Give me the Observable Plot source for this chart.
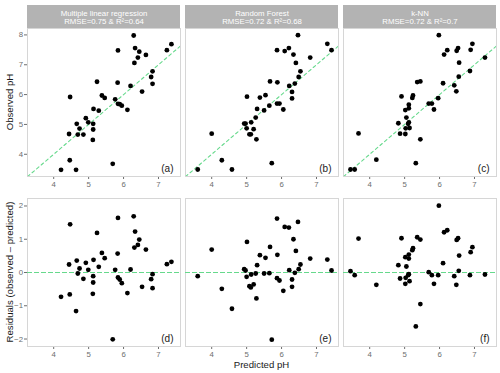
<!DOCTYPE html>
<html><head><meta charset="utf-8">
<script src="https://cdn.jsdelivr.net/npm/d3@7"></script>
<script src="https://cdn.jsdelivr.net/npm/@observablehq/plot@0.6"></script>
<style>
html,body{margin:0;padding:0;background:#fff;}
#chart{position:relative;width:500px;height:373px;overflow:hidden;font-family:"Liberation Sans",Arial,sans-serif;}
#chart > div{position:absolute;left:0;}
.ytitle{position:absolute;font-size:9.6px;color:#1a1a1a;white-space:nowrap;transform:translate(-50%,-50%) rotate(-90deg);}
.xtitle{position:absolute;font-size:9.6px;color:#1a1a1a;white-space:nowrap;transform:translate(-50%,-50%);}
</style></head><body>
<div id="chart">
  <div id="strips" style="top:5px"></div>
  <div id="top" style="top:28px"></div>
  <div id="bottom" style="top:190px"></div>
  <span class="ytitle" style="left:9px;top:102px">Observed pH</span>
  <span class="ytitle" style="left:9px;top:272px">Residuals (observed – predicted)</span>
  <span class="xtitle" style="left:261.5px;top:364px">Predicted pH</span>
</div>
<script>
const models = ["Multiple linear regression", "Random Forest", "k-NN"];
const metrics = ["RMSE=0.75 & R²=0.64", "RMSE=0.72 & R²=0.68", "RMSE=0.72 & R²=0.7"];
const topLabels = ["(a)", "(b)", "(c)"];
const bottomLabels = ["(d)", "(e)", "(f)"];
const xTicks = [4, 5, 6, 7];
const yTopTicks = [4, 5, 6, 7, 8];
const yResidTicks = [-2, -1, 0, 1, 2];

const mlrPredicted = [6.29,7.37,5.84,6.33,6.45,7.24,6.64,6.41,6.31,6.83,6.79,6.83,6.53,6.20,5.24,5.83,4.47,5.38,5.46,5.76,5.84,5.89,5.95,6.11,5.14,5.29,4.92,4.99,5.13,4.66,4.74,5.13,4.44,4.69,4.85,5.12,4.46,4.21,4.64,5.69];
const mlrObserved  = [7.98,7.69,7.48,7.56,7.44,7.49,7.33,7.24,7.06,6.78,6.59,6.36,6.10,6.29,6.43,6.40,5.92,5.97,5.89,5.84,5.69,5.68,5.63,5.49,5.52,5.46,5.21,5.07,5.02,5.02,4.86,4.83,4.68,4.66,4.66,4.48,3.80,3.48,3.48,3.68];

const rfPredicted = [6.47,7.31,7.43,5.87,6.09,6.21,6.34,6.82,6.41,6.54,6.49,5.67,5.88,6.38,6.22,6.30,6.30,5.01,5.54,5.38,5.87,5.94,5.65,6.05,5.30,5.50,5.26,5.13,4.93,4.97,5.00,5.20,5.08,5.12,5.28,4.00,4.29,5.72,3.60,4.58];
const rfObserved  = [7.99,7.70,7.49,7.49,7.46,7.56,7.34,7.24,7.06,6.78,6.59,6.44,6.41,6.37,6.29,6.09,5.87,5.93,5.98,5.90,5.70,5.70,5.63,5.50,5.52,5.47,5.23,5.07,5.03,5.03,4.87,4.84,4.67,4.67,4.50,4.69,3.80,3.70,3.49,3.49];

const knnPredicted = [5.98,6.94,7.30,6.89,6.53,6.49,6.22,6.13,6.56,6.87,6.55,6.42,6.48,6.10,5.96,5.36,5.45,4.91,5.24,5.22,5.69,5.78,5.84,5.12,5.12,5.02,5.05,5.12,5.10,4.82,5.03,5.14,4.87,5.02,3.68,5.45,4.19,5.32,3.45,3.57];
const knnObserved  = [7.99,7.70,7.24,7.50,7.56,7.47,7.49,7.34,7.07,6.79,6.60,6.31,6.11,6.38,5.88,6.42,6.44,5.94,5.97,5.89,5.70,5.70,5.50,5.66,5.54,5.48,5.23,5.07,5.02,5.04,4.87,4.88,4.69,4.68,4.70,4.50,3.82,3.70,3.49,3.49];

const predictedByModel = [mlrPredicted, rfPredicted, knnPredicted];
const observedByModel = [mlrObserved, rfObserved, knnObserved];

const rows = [];
models.forEach((m, k) => {
  predictedByModel[k].forEach((p, i) => {
    const o = observedByModel[k][i];
    rows.push({model: m, predicted: p, observed: o, residual: o - p});
  });
});

const xDomain = [3.25, 7.63];
const yTopDomain = [3.255, 8.215];
const yResidDomain = [-2.225, 2.225];
const oneToOne = [Math.min(xDomain[0], yTopDomain[0]), Math.max(xDomain[1], yTopDomain[1])];

const green = "#66d98c";
const frameColor = "#d6d6d6";
const font = "Liberation Sans, Arial, sans-serif";
const intFmt = d3.format("d");
const fxOpts = {domain: models, paddingInner: 0.034, paddingOuter: 0, axis: null, label: null};
const axisStyle = {fontFamily: font, fontSize: "7.8px", color: "#6e6e6e", background: "transparent", overflow: "visible"};

// facet strips
const strips = Plot.plot({
  width: 500, height: 23, marginLeft: 26, marginRight: 3, marginTop: 0, marginBottom: 0,
  style: {fontFamily: font, background: "transparent"},
  x: {type: "band", domain: models, paddingInner: 0.034, paddingOuter: 0, axis: null},
  marks: [
    Plot.cell(models, {x: d => d, fill: "#b3b3b3", inset: 0}),
    Plot.text(models, {x: d => d, text: (d, i) => d + "\n" + metrics[i], fill: "white", fontSize: 7.8, lineHeight: 1.05, frameAnchor: "middle"})
  ]
});
document.getElementById("strips").appendChild(strips);

// top row: observed vs predicted
const topPlot = Plot.plot({
  width: 500, height: 162, marginLeft: 26, marginRight: 3, marginTop: 0, marginBottom: 14,
  style: axisStyle,
  fx: fxOpts,
  x: {domain: xDomain, ticks: xTicks, tickFormat: intFmt, tickSize: 3, tickPadding: 1.5, label: null},
  y: {domain: yTopDomain, ticks: yTopTicks, tickFormat: intFmt, tickSize: 3, tickPadding: 1.5, label: null},
  marks: [
    Plot.frame({stroke: frameColor}),
    Plot.line(oneToOne, {x: d => d, y: d => d, stroke: green, strokeWidth: 1.1, strokeDasharray: "3,3", clip: true}),
    Plot.dot(rows, {fx: "model", x: "predicted", y: "observed", r: 2.4, fill: "black", stroke: "none"}),
    Plot.text(topLabels, {fx: (d, i) => models[i], text: d => d, frameAnchor: "bottom-right", dx: -7, dy: -5, fontSize: 10, fill: "#1a1a1a"})
  ]
});
document.getElementById("top").appendChild(topPlot);

// bottom row: residuals vs predicted
const bottomPlot = Plot.plot({
  width: 500, height: 183, marginLeft: 26, marginRight: 3, marginTop: 8, marginBottom: 27,
  style: axisStyle,
  fx: fxOpts,
  x: {domain: xDomain, ticks: xTicks, tickFormat: intFmt, tickSize: 3, tickPadding: 1.5, label: null},
  y: {domain: yResidDomain, ticks: yResidTicks, tickFormat: intFmt, tickSize: 3, tickPadding: 1.5, label: null},
  marks: [
    Plot.frame({stroke: frameColor}),
    Plot.ruleY([0], {stroke: green, strokeWidth: 1.1, strokeDasharray: "5,2"}),
    Plot.dot(rows, {fx: "model", x: "predicted", y: "residual", r: 2.4, fill: "black", stroke: "none"}),
    Plot.text(bottomLabels, {fx: (d, i) => models[i], text: d => d, frameAnchor: "bottom-right", dx: -7, dy: -5, fontSize: 10, fill: "#1a1a1a"})
  ]
});
document.getElementById("bottom").appendChild(bottomPlot);
</script>
</body></html>
